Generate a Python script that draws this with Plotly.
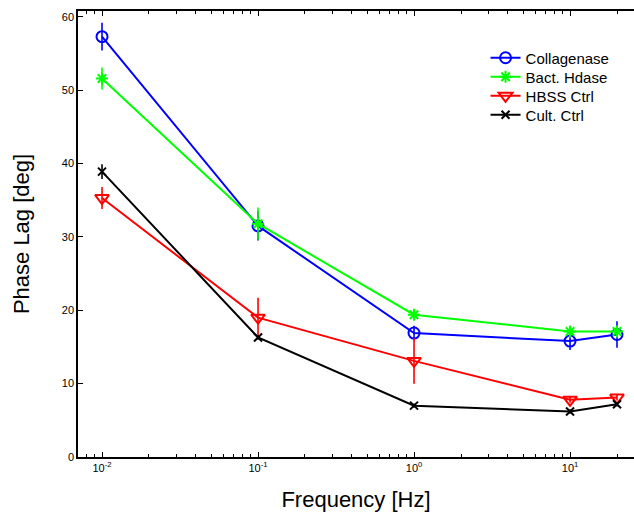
import plotly.graph_objects as go

# Loading frequencies (Hz)
freq = [0.01, 0.1, 1.0, 10.0, 20.0]

# Phase lag (deg) per treatment, with symmetric error bars
collagenase = [57.3, 31.5, 16.9, 15.8, 16.7]
collagenase_err = [1.9, 2.0, 1.0, 1.2, 1.8]

bact_hdase = [51.6, 31.8, 19.4, 17.1, 17.1]
bact_hdase_err = [1.5, 2.2, 0.5, 0.4, 0.5]

hbss_ctrl = [35.3, 19.0, 13.1, 7.8, 8.1]
hbss_ctrl_err = [1.5, 2.7, 3.1, 0.4, 0.4]

cult_ctrl = [38.9, 16.3, 7.0, 6.2, 7.2]
cult_ctrl_err = [1.0, 0.3, 0.3, 0.3, 0.3]

# Decade ticks and their labels
major_ticks = [0.01, 0.1, 1.0, 10.0]
major_labels = ["10<sup>-2</sup>", "10<sup>-1</sup>", "10<sup>0</sup>", "10<sup>1</sup>"]
# Intermediate log ticks (2..9 within each decade, inside the visible range)
minor_ticks = [m * d for d in (0.001, 0.01, 0.1, 1.0, 10.0)
               for m in range(2, 10) if 0.007 <= m * d <= 25]

series = [
    ("Collagenase", collagenase, collagenase_err, "#0000ff", "circle-open", 11),
    ("Bact. Hdase", bact_hdase, bact_hdase_err, "#00ff00", "asterisk-open", 10),
    ("HBSS Ctrl", hbss_ctrl, hbss_ctrl_err, "#ff0000", "triangle-down-open", 12),
    ("Cult. Ctrl", cult_ctrl, cult_ctrl_err, "#000000", "x-thin-open", 8),
]

font_family = "Liberation Sans, Arial, sans-serif"
x_range = [-2.154, 1.41]

fig = go.Figure()
legend_ids = ["legend", "legend2", "legend3", "legend4"]
for (name, vals, errs, color, symbol, size), lg in zip(series, legend_ids):
    fig.add_trace(go.Scatter(
        x=freq, y=vals, name=name, mode="lines+markers", legend=lg,
        line=dict(color=color, width=2),
        marker=dict(symbol=symbol, size=size, color=color,
                    line=dict(color=color, width=2)),
        error_y=dict(type="data", array=errs, visible=True,
                     color=color, thickness=1.6, width=0),
    ))

# Invisible trace that carries the overlaid minor-tick axis
fig.add_trace(go.Scatter(x=[0.01], y=[0], xaxis="x2", mode="markers",
                         marker=dict(opacity=0), showlegend=False,
                         hoverinfo="skip"))

legend_style = dict(
    xanchor="left", yanchor="middle",
    bgcolor="rgba(0,0,0,0)", borderwidth=0,
    font=dict(size=15, family=font_family),
)
legend_rows = [58, 77, 96, 115]   # row centres, px from top
layout_legends = {}
for lg, row in zip(legend_ids, legend_rows):
    layout_legends[lg] = dict(x=0.733, y=(457 - row) / 446, **legend_style)

fig.update_layout(
    width=634, height=512,
    margin=dict(l=78, r=0, t=11, b=55),
    paper_bgcolor="white", plot_bgcolor="white",
    font=dict(family=font_family, color="black", size=11),
    showlegend=True,
    **layout_legends,
    xaxis=dict(
        type="log", range=x_range,
        tickmode="array", tickvals=major_ticks, ticktext=major_labels,
        showgrid=False, zeroline=False,
        showline=True, linecolor="black", linewidth=1.5, mirror="ticks",
        ticks="inside", ticklen=5, tickcolor="black",
        tickfont=dict(size=11),
        title=dict(text="Frequency [Hz]", font=dict(size=22), standoff=20),
    ),
    xaxis2=dict(
        type="log", range=x_range, overlaying="x", anchor="y",
        tickmode="array", tickvals=minor_ticks, showticklabels=False,
        showgrid=False, zeroline=False, showline=False, mirror="ticks",
        ticks="inside", ticklen=3, tickcolor="black",
    ),
    yaxis=dict(
        range=[0, 60.8], tick0=0, dtick=10,
        showgrid=False, zeroline=False,
        showline=True, linecolor="black", linewidth=1.5, mirror=False,
        ticks="inside", ticklen=5, tickcolor="black",
        tickfont=dict(size=11),
        title=dict(text="Phase Lag [deg]", font=dict(size=22), standoff=26),
    ),
)

fig.write_html("out.html")
